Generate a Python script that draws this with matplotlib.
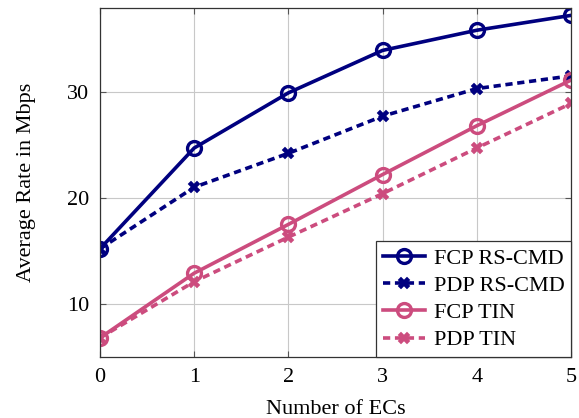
import matplotlib as mpl
mpl.use('Agg')
import matplotlib.pyplot as plt
import numpy as np

plt.rc('font', family='serif', serif=['Liberation Serif', 'DejaVu Serif'])
plt.rc('mathtext', fontset='stix')
plt.rc('xtick', labelsize=16)
plt.rc('ytick', labelsize=16)
plt.rc('axes', labelsize=16)

ecs = [0, 1, 2, 3, 4, 5]
fcp_rscmd = [15.2, 24.7, 29.9, 33.9, 35.8, 37.2]
pdp_rscmd = [15.2, 21.0, 24.2, 27.7, 30.3, 31.5]
fcp_tin = [6.8, 12.9, 17.5, 22.2, 26.8, 31.1]
pdp_tin = [6.8, 12.1, 16.3, 20.4, 24.7, 28.9]

blue = '#00007f'
pink = '#cc4c7e'

fig = plt.figure(figsize=(5.79, 4.18), dpi=100)
ax = fig.add_axes([0.1727, 0.146, 0.8136, 0.835])

lw = 2.6
dash = (0, (2.0, 1.3))
ax.plot(ecs, fcp_rscmd, color=blue, lw=lw, marker='o', ms=10, mfc='none', mew=2.4,
        label='FCP RS-CMD')
ax.plot(ecs, pdp_rscmd, color=blue, lw=lw, ls=dash, marker='X', ms=9,
        mew=0.3, label='PDP RS-CMD')
ax.plot(ecs, fcp_tin, color=pink, lw=lw, marker='o', ms=10, mfc='none', mew=2.4,
        label='FCP TIN')
ax.plot(ecs, pdp_tin, color=pink, lw=lw, ls=dash, marker='X', ms=9,
        mew=0.3, label='PDP TIN')

ax.set_xlim(0, 5)
ax.set_ylim(5, 37.9)
ax.set_xticks(ecs)
ax.set_yticks([10, 20, 30])
ax.grid(True, color='#c8c8c8', lw=0.8)
ax.tick_params(direction='in', length=4, color='#555555', top=True, right=True, pad=8)
for s in ax.spines.values():
    s.set_linewidth(0.9)
    s.set_color('#333333')
ax.set_xlabel('Number of ECs', labelpad=9)
ax.set_ylabel('Average Rate in Mbps', labelpad=22)

leg = ax.legend(loc='lower right', fontsize=16, fancybox=False, edgecolor='#333333',
                framealpha=1, borderaxespad=0, handlelength=1.9, labelspacing=0.3,
                borderpad=0.3, handletextpad=0.4)
leg.get_frame().set_linewidth(0.9)

fig.savefig('out.png', dpi=100)
